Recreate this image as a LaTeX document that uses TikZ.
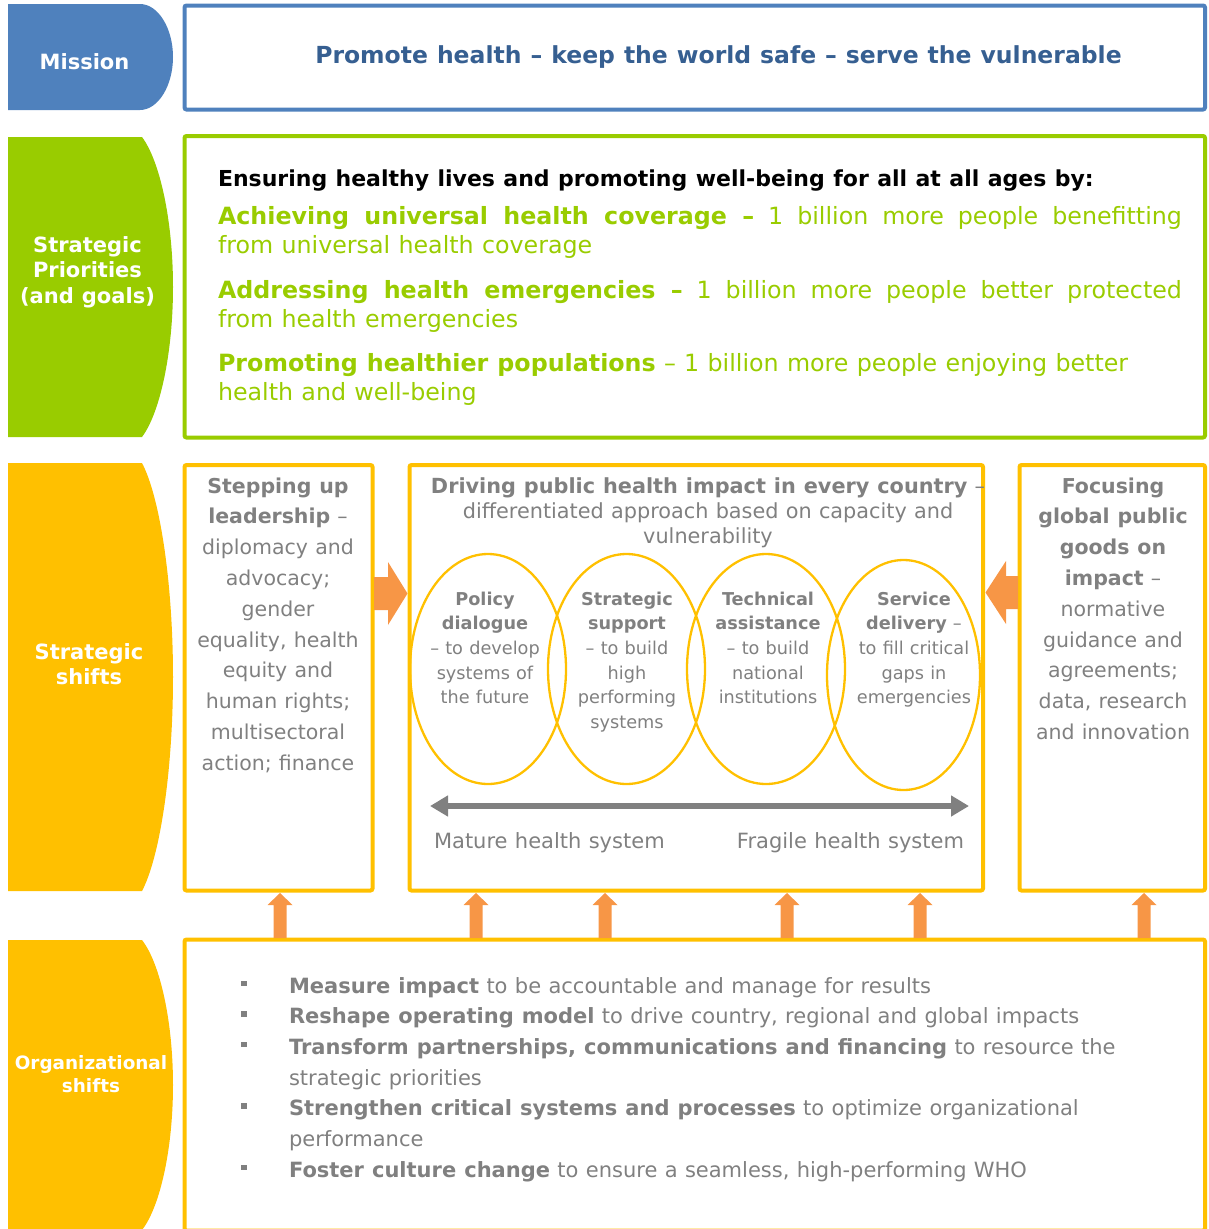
\documentclass[tikz,border=0pt]{standalone}
\usepackage{fontspec}
\setmainfont[WordSpace=1.1]{DejaVu Sans}
\usetikzlibrary{arrows.meta}
\definecolor{tabblue}{HTML}{4F81BD}
\definecolor{misblue}{HTML}{365F91}
\definecolor{wgreen}{HTML}{99CC00}
\definecolor{wyellow}{HTML}{FFC000}
\definecolor{worange}{HTML}{F79646}
\definecolor{wgray}{HTML}{808080}
\newcommand\myfs[2]{\fontsize{#1}{#2}\selectfont}
\newcommand\ctab[1]{\begin{tabular}[t]{@{}c@{}}#1\end{tabular}}
\newcommand\ltab[1]{\begin{tabular}[t]{@{}l@{}}#1\end{tabular}}
\newcommand\blt{\makebox[48pt][l]{\rule[7pt]{5.5pt}{5.5pt}}}
\begin{document}
\begin{tikzpicture}[x=1pt,y=-1pt,
  box/.style={draw, line width=4pt, rounded corners=2pt, anchor=north west, inner sep=0pt, outer sep=0pt},
  txt/.style={inner sep=0pt, outer sep=0pt, anchor=base},
  tabtxt/.style={txt, text=white, font=\bfseries\myfs{21}{25.7}},
  graytxt/.style={txt, text=wgray, font=\myfs{20.5}{30.8}},
  elltxt/.style={txt, text=wgray, font=\myfs{17.7}{24.7}},
  ell/.style={draw=wyellow, line width=2.3pt},
  blockarrow/.style={fill=worange}]
\useasboundingbox (0,0) rectangle (1208,1229);

% ---- side tabs ----
\fill[tabblue] (8,4) -- (140,4) .. controls (158,4) and (173,28) .. (173,57)
  .. controls (173,86) and (158,110) .. (140,110) -- (8,110) -- cycle;
\fill[wgreen] (8,137) -- (142,137) .. controls (160,161) and (173,221) .. (173,287)
  .. controls (173,353) and (160,413) .. (142,437) -- (8,437) -- cycle;
\fill[wyellow] (8,463) -- (142,463) .. controls (160,497) and (173,583) .. (173,677)
  .. controls (173,771) and (160,857) .. (142,891) -- (8,891) -- cycle;
\fill[wyellow] (8,940) -- (142,940) .. controls (160,963) and (173,1021) .. (173,1085)
  .. controls (173,1149) and (160,1207) .. (142,1230) -- (8,1230) -- cycle;

\node[tabtxt] (tmission) at (84.5,69) {Mission};
\node[tabtxt] (tprio) at (87.5,252) {\ctab{Strategic\\Priorities\\(and goals)}};
\node[tabtxt] (tshift) at (89,659) {\ctab{Strategic\\shifts}};
\node[txt, text=white, font=\bfseries\myfs{18.4}{23}] (torg) at (91,1069) {\ctab{Organizational\\shifts}};

% ---- boxes ----
\node[box, draw=tabblue, minimum width=1020.5pt, minimum height=104pt] (mission) at (184.5,5.5) {};
\node[box, draw=wgreen, minimum width=1020.5pt, minimum height=301.5pt] (prio) at (184.5,136) {};
\node[box, draw=wyellow, minimum width=188pt, minimum height=425.5pt] (lead) at (184.5,465) {};
\node[box, draw=wyellow, minimum width=573.5pt, minimum height=425.5pt] (impact) at (409.5,465) {};
\node[box, draw=wyellow, minimum width=185.5pt, minimum height=425.5pt] (goods) at (1019.5,465) {};
\node[box, draw=wyellow, minimum width=1020.5pt, minimum height=291pt] (org) at (184.5,939.5) {};

% ---- mission text ----
\node[txt, text=misblue, font=\bfseries\myfs{23.5}{28}] (mtext) at (718.5,63)
  {Promote health – keep the world safe – serve the vulnerable};

% ---- priorities ----
\node[txt, anchor=base west, font=\bfseries\myfs{22}{26}] (ens) at (218,186)
  {Ensuring healthy lives and promoting well-being for all at all ages by:};
\node[txt, anchor=base west, text=wgreen, font=\myfs{23.75}{29}] (goals) at (218,224)
  {\ltab{\makebox[964pt][s]{\textbf{Achieving universal health coverage –} 1 billion more people benefitting}\\
  from universal health coverage\\[16pt]
  \makebox[964pt][s]{\textbf{Addressing health emergencies –} 1 billion more people better protected}\\
  from health emergencies\\[15pt]
  \textbf{Promoting healthier populations} – 1 billion more people enjoying better\\
  health and well-being}};

% ---- strategic shifts ----
\node[graytxt] (leadtxt) at (278,493)
  {\ctab{\textbf{Stepping up}\\ \textbf{leadership} –\\ diplomacy and\\ advocacy;\\ gender\\ equality, health\\ equity and\\ human rights;\\ multisectoral\\ action; finance}};
\node[graytxt, font=\myfs{20.8}{25}] (impacttxt) at (708,493)
  {\ctab{\textbf{Driving public health impact in every country} –\\ differentiated approach based on capacity and\\ vulnerability}};
\node[graytxt] (goodstxt) at (1113,493)
  {\ctab{\textbf{Focusing}\\ \textbf{global public}\\ \textbf{goods on}\\ \textbf{impact} –\\ normative\\ guidance and\\ agreements;\\ data, research\\ and innovation}};

\draw[ell] (488,669) ellipse [x radius=78pt, y radius=115pt];
\draw[ell] (626.5,669) ellipse [x radius=78.5pt, y radius=115pt];
\draw[ell] (766,669) ellipse [x radius=79pt, y radius=115pt];
\draw[ell] (903.5,675) ellipse [x radius=76.5pt, y radius=115pt];

\node[elltxt] (e1) at (485,605) {\ctab{\textbf{Policy}\\ \textbf{dialogue}\\ – to develop\\ systems of\\ the future}};
\node[elltxt] (e2) at (627,605) {\ctab{\textbf{Strategic}\\ \textbf{support}\\ – to build\\ high\\ performing\\ systems}};
\node[elltxt] (e3) at (768,605) {\ctab{\textbf{Technical}\\ \textbf{assistance}\\ – to build\\ national\\ institutions}};
\node[elltxt] (e4) at (914,605) {\ctab{\textbf{Service}\\ \textbf{delivery} –\\ to fill critical\\ gaps in\\ emergencies}};

\coordinate (mleft) at (430,806);
\coordinate (mright) at (969,806);
\draw[wgray, line width=6pt, {Triangle[length=18pt,width=20pt]}-{Triangle[length=18pt,width=20pt]}] (mleft) -- (mright);
\node[txt, anchor=base west, text=wgray, font=\myfs{21}{25}] (mature) at (434,848) {Mature health system};
\node[txt, anchor=base east, text=wgray, font=\myfs{21}{25}] (fragile) at (964,848) {Fragile health system};

% ---- block arrows ----
\fill[blockarrow] (374,577) -- (388,577) -- (388,562) -- (407.5,593.5) -- (388,625) -- (388,610) -- (374,610) -- cycle;
\fill[blockarrow] (1018,576) -- (1006,576) -- (1006,561) -- (985.5,592.5) -- (1006,624) -- (1006,609) -- (1018,609) -- cycle;
\foreach \cx in {280,476,605,787,920,1144}{
  \fill[blockarrow] (\cx-6.5,938) -- (\cx-6.5,905) -- (\cx-12.5,905) -- (\cx,893) -- (\cx+12.5,905) -- (\cx+6.5,905) -- (\cx+6.5,938) -- cycle;
}

% ---- organizational shifts ----
\node[txt, anchor=base west, text=wgray, font=\myfs{21}{30.7}] (orgtxt) at (241,993)
  {\begin{tabular}[t]{@{}l@{}l@{}}
  \blt & \textbf{Measure impact} to be accountable and manage for results\\
  \blt & \textbf{Reshape operating model} to drive country, regional and global impacts\\
  \blt & \textbf{Transform partnerships, communications and financing} to resource the\\
       & strategic priorities\\
  \blt & \textbf{Strengthen critical systems and processes} to optimize organizational\\
       & performance\\
  \blt & \textbf{Foster culture change} to ensure a seamless, high-performing WHO
  \end{tabular}};
\end{tikzpicture}
\end{document}
